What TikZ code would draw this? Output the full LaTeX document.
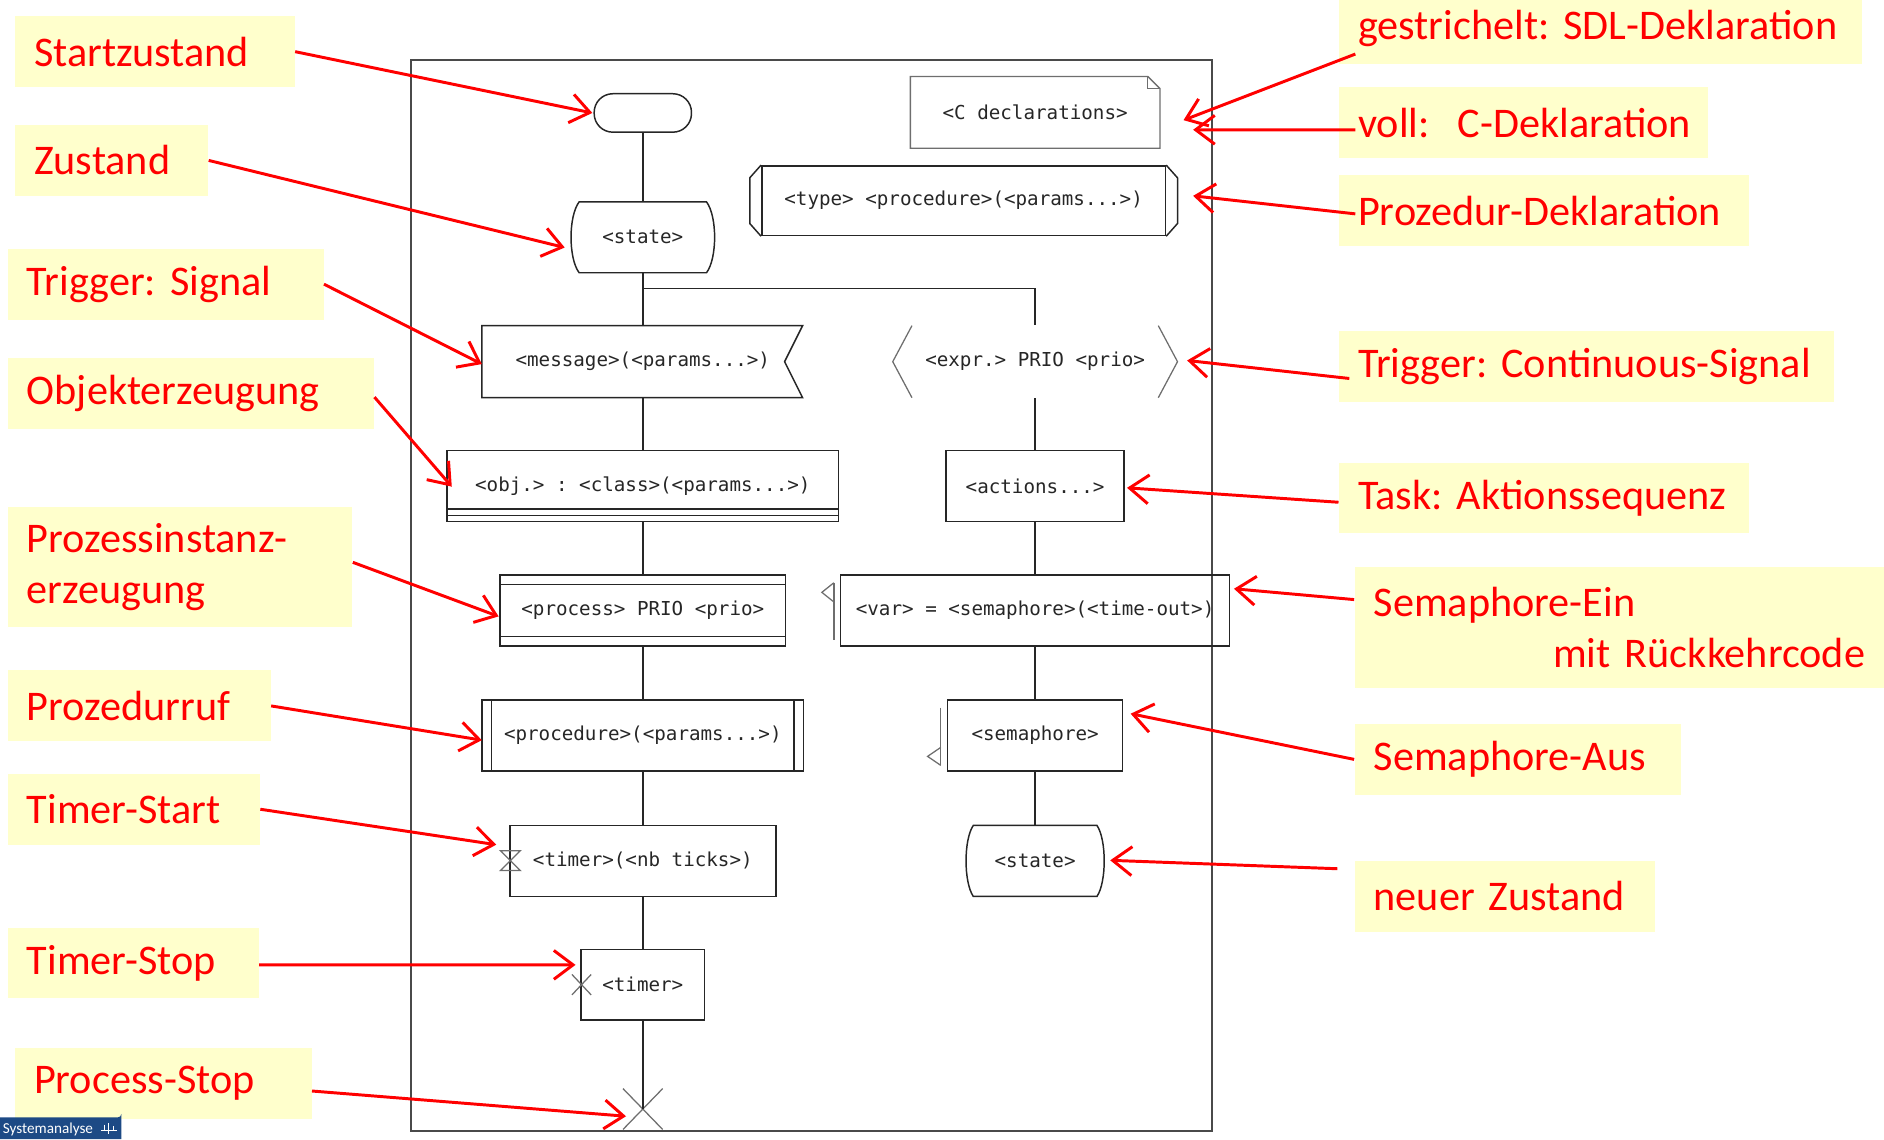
\documentclass[tikz,border=0pt]{standalone}
\usepackage{fontspec}
\usetikzlibrary{arrows.meta,calc}
\newfontfamily\lblfont{Carlito}
\newfontfamily\codefont{DejaVu Sans Mono}
\definecolor{lblfill}{HTML}{FFFFCC}
\definecolor{lblred}{HTML}{FF0000}
\definecolor{ink}{HTML}{262626}
\definecolor{soft}{HTML}{6E6E6E}
\definecolor{framegray}{HTML}{4A4A4A}
\definecolor{badge}{HTML}{1D4A85}
\frenchspacing

\begin{document}
\begin{tikzpicture}[x=0.02cm,y=-0.02cm,
  lbl/.style={fill=lblfill, text=lblred, anchor=west, align=left,
    inner xsep=0.32cm, inner ysep=0pt, minimum height=1.18cm,
    font=\lblfont\fontsize{20}{24}\selectfont},
  code/.style={font=\codefont\fontsize{9.1}{11}\selectfont, text=ink, inner sep=0pt},
  boxed/.style={code, draw=ink, line width=0.7pt},
  sym/.style={draw=ink, line width=0.7pt},
  thin/.style={draw=soft, line width=0.6pt},
  flow/.style={draw=ink, line width=0.7pt},
  ann/.style={draw=lblred, line width=1.4pt, -{Straight Barb[length=0.32cm,width=0.48cm]}},
]
\useasboundingbox (0,0) rectangle (1568,948);

% ---------- process frame ----------
\draw[framegray, line width=0.9pt] (342,50) rectangle (1009,941);

% ---------- start symbol ----------
\node[boxed, rounded corners=0.31cm, minimum width=1.62cm, minimum height=0.64cm] (start) at (535,94) {};

% ---------- C declarations (note with folded corner) ----------
\node[code, minimum width=4.14cm, minimum height=1.18cm] (cdecl) at (861.5,93.5) {<C declarations>};
\draw[thin] (cdecl.south west) -- (cdecl.north west) -- ([xshift=-0.2cm]cdecl.north east)
  -- ([yshift=-0.2cm]cdecl.north east) -- (cdecl.south east) -- cycle;
\draw[thin, line width=0.4pt] ([xshift=-0.2cm]cdecl.north east) -- ([xshift=-0.2cm,yshift=-0.2cm]cdecl.north east)
  -- ([yshift=-0.2cm]cdecl.north east);

% ---------- procedure declaration ----------
\node[boxed, minimum width=6.72cm, minimum height=1.16cm] (pdecl) at (802,167) {<type> <procedure>(<params...>)};
\draw[sym] (pdecl.north west) -- (624,148) -- (624,186) -- (pdecl.south west);
\draw[sym] (pdecl.north east) -- (980,148) -- (980,186) -- (pdecl.south east);

% ---------- state ----------
\node[code, minimum width=2.12cm, minimum height=1.18cm] (state) at (535,197.5) {<state>};
\draw[sym] (482,168) -- (588,168) .. controls (597,180) and (597,215) .. (588,227)
  -- (482,227) .. controls (473,215) and (473,180) .. (482,168) -- cycle;

% ---------- input signal ----------
\node[code, minimum width=5.34cm, minimum height=1.2cm] (message) at (535,301) {<message>(<params...>)};
\draw[sym] (668,271) -- (401,271) -- (401,331) -- (668,331) -- (653,301) -- cycle;

% ---------- continuous signal ----------
\node[code, minimum width=4.1cm, minimum height=1.2cm] (expr) at (861.5,301) {<expr.> PRIO <prio>};
\draw[thin] (759,271) -- (743,301) -- (759,331);
\draw[thin] (964,271) -- (980,301) -- (964,331);

% ---------- object creation ----------
\node[boxed, minimum width=6.52cm, minimum height=1.18cm] (obj) at (535,404.5) {<obj.> : <class>(<params...>)};
\draw[sym] ([yshift=0.22cm]obj.south west) -- ([yshift=0.22cm]obj.south east);
\draw[sym] ([yshift=0.11cm]obj.south west) -- ([yshift=0.11cm]obj.south east);

% ---------- task ----------
\node[boxed, minimum width=2.96cm, minimum height=1.18cm] (actions) at (861.5,404.5) {<actions...>};

% ---------- process creation ----------
\node[boxed, minimum width=4.75cm, minimum height=1.18cm] (proc) at (535,508) {<process> PRIO <prio>};
\draw[sym] ([yshift=-0.17cm]proc.north west) -- ([yshift=-0.17cm]proc.north east);
\draw[sym] ([yshift=0.17cm]proc.south west) -- ([yshift=0.17cm]proc.south east);

% ---------- semaphore take ----------
\node[boxed, minimum width=6.48cm, minimum height=1.18cm] (semtake) at (861.5,508) {<var> = <semaphore>(<time-out>)};
\draw[thin] (694,485) -- (694,533);
\draw[thin] (694,485) -- (684,493) -- (694,501);

% ---------- procedure call ----------
\node[boxed, minimum width=5.35cm, minimum height=1.18cm] (pcall) at (535,612) {<procedure>(<params...>)};
\draw[sym] ([xshift=0.17cm]pcall.north west) -- ([xshift=0.17cm]pcall.south west);
\draw[sym] ([xshift=-0.17cm]pcall.north east) -- ([xshift=-0.17cm]pcall.south east);

% ---------- semaphore give ----------
\node[boxed, minimum width=2.91cm, minimum height=1.18cm] (semgive) at (861.5,612) {<semaphore>};
\draw[thin] (783,589) -- (783,637);
\draw[thin] (783,622) -- (772,629.5) -- (783,637);

% ---------- timer start ----------
\node[boxed, minimum width=4.43cm, minimum height=1.18cm] (tstart) at (535,716.5) {<timer>(<nb ticks>)};
\draw[thin] (416.5,708) -- (433,708) -- (416.5,724.5) -- (433,724.5) -- cycle;

% ---------- next state ----------
\node[code, minimum width=2.08cm, minimum height=1.18cm] (nstate) at (861.5,716.5) {<state>};
\draw[sym] (810,687) -- (913,687) .. controls (921,699) and (921,734) .. (913,746)
  -- (810,746) .. controls (802,734) and (802,699) .. (810,687) -- cycle;

% ---------- timer stop ----------
\node[boxed, minimum width=2.06cm, minimum height=1.17cm] (tstop) at (535,819.5) {<timer>};
\draw[thin] (476,811) -- (492,828);
\draw[thin] (476,828) -- (492,811);

% ---------- process stop ----------
\node[inner sep=0pt, minimum size=0pt] (pstop) at (535,923) {};
\draw[thin] (518.5,906) -- (551.5,940);
\draw[thin] (518.5,940) -- (551.5,906);

% ---------- flow lines ----------
\coordinate (fork) at (535,240);
\draw[flow] (start.south) -- (state.north);
\draw[flow] (state.south) -- (message.north);
\draw[flow] (fork) -| (expr.north);
\draw[flow] (message.south) -- (obj.north);
\draw[flow] (obj.south) -- (proc.north);
\draw[flow] (proc.south) -- (pcall.north);
\draw[flow] (pcall.south) -- (tstart.north);
\draw[flow] (tstart.south) -- (tstop.north);
\draw[flow] (tstop.south) -- (pstop.center);
\draw[flow] (expr.south) -- (actions.north);
\draw[flow] (actions.south) -- (semtake.north);
\draw[flow] (semtake.south) -- (semgive.north);
\draw[flow] (semgive.south) -- (nstate.north);

% ---------- labels, left ----------
\node[lbl, text width=4.02cm] (l1) at (12,43) {\mbox{Startzustand}};
\node[lbl, text width=2.58cm] (l2) at (12,133.5) {\mbox{Zustand}};
\node[lbl, text width=4.62cm] (l3) at (6,236.5) {\mbox{Trigger: Signal}};
\node[lbl, text width=5.46cm] (l4) at (6,327.5) {\mbox{Objekterzeugung}};
\node[lbl, text width=5.10cm, minimum height=2.0cm] (l5) at (6,472) {\mbox{Prozessinstanz-}\\\mbox{erzeugung}};
\node[lbl, text width=3.74cm] (l6) at (6,587.5) {\mbox{Prozedurruf}};
\node[lbl, text width=3.56cm] (l7) at (6,673.5) {\mbox{Timer-Start}};
\node[lbl, text width=3.54cm] (l8) at (6,801.5) {\mbox{Timer-Stop}};
\node[lbl, text width=4.30cm] (l9) at (12,901.5) {\mbox{Process-Stop}};

% ---------- labels, right ----------
\node[lbl, text width=8.06cm] (r1) at (1114,24) {\mbox{gestrichelt: SDL-Deklaration}};
\node[lbl, text width=5.50cm] (r2) at (1114,102) {\mbox{voll:\ \ C-Deklaration}};
\node[lbl, text width=6.18cm] (r3) at (1114,175.5) {\mbox{Prozedur-Deklaration}};
\node[lbl, text width=7.60cm] (r4) at (1114,305) {\mbox{Trigger: Continuous-Signal}};
\node[lbl, text width=6.18cm] (r5) at (1114,414.5) {\mbox{Task: Aktionssequenz}};
\node[lbl, text width=8.18cm, minimum height=2.02cm] (r6) at (1127,522.5) {\mbox{Semaphore-Ein}\\\hspace*{\fill}\mbox{mit Rückkehrcode}};
\node[lbl, text width=4.80cm] (r7) at (1127,632) {\mbox{Semaphore-Aus}};
\node[lbl, text width=4.36cm] (r8) at (1127,746) {\mbox{neuer Zustand}};

% ---------- arrow tips ----------
\coordinate (t1) at (493,94);
\coordinate (t2) at (470,206);
\coordinate (t3) at (401,303);
\coordinate (t4) at (376,405);
\coordinate (t5) at (415,513);
\coordinate (t6) at (401,616);
\coordinate (t7) at (413,703);
\coordinate (t8) at (479,803);
\coordinate (t9) at (521,929);
\coordinate (t10) at (985,100);
\coordinate (t11) at (993,108);
\coordinate (t12) at (993,163);
\coordinate (t13) at (988,300);
\coordinate (t14) at (938,406);
\coordinate (t15) at (1027,490);
\coordinate (t16) at (941,594);
\coordinate (t17) at (924,716);

% ---------- annotation arrows ----------
\draw[ann] (l1.east) -- (t1);
\draw[ann] (l2.east) -- (t2);
\draw[ann] (l3.east) -- (t3);
\draw[ann] ([yshift=-0.06cm]l4.east) -- (t4);
\draw[ann] ([yshift=0.08cm]l5.east) -- (t5);
\draw[ann] (l6.east) -- (t6);
\draw[ann] (l7.east) -- (t7);
\draw[ann] ([yshift=-0.03cm]l8.east) -- (t8);
\draw[ann] ([yshift=-0.13cm]l9.east) -- (t9);
\draw[ann] ([xshift=0.28cm,yshift=-0.42cm]r1.west) -- (t10);
\draw[ann] ([xshift=0.28cm,yshift=-0.12cm]r2.west) -- (t11);
\draw[ann] ([xshift=0.28cm,yshift=-0.05cm]r3.west) -- (t12);
\draw[ann] ([xshift=0.18cm,yshift=-0.2cm]r4.west) -- (t13);
\draw[ann] ([yshift=-0.07cm]r5.west) -- (t14);
\draw[ann] ([yshift=0.47cm]r6.west) -- (t15);
\draw[ann] (r7.west) -- (t16);
\draw[ann] ([xshift=-0.28cm,yshift=0.46cm]r8.west) -- (t17);

% ---------- footer badge ----------
\fill[badge] (0,930) -- (98,930) arc[start angle=90, end angle=0, radius=3] -- (101,948) -- (0,948) -- cycle;
\node[anchor=west, text=white, inner sep=0pt, font=\lblfont\fontsize{7.2}{8}\selectfont] (badgetxt) at (2,940) {Systemanalyse};
\draw[white, line width=0.35pt] (84,941) -- (97,941);
\draw[white, line width=0.35pt] (87,936) -- (87,941) (90.5,934.5) -- (90.5,944) (94,937) -- (94,941);
\end{tikzpicture}
\end{document}
